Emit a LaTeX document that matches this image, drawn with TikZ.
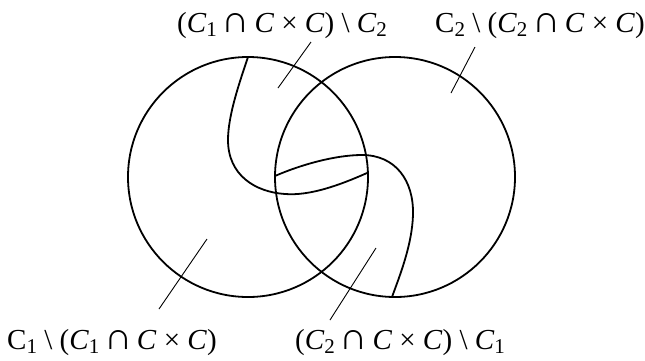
\documentclass[tikz,border=0pt]{standalone}
\usepackage{fontspec}
\usepackage{graphicx}
\setmainfont{Liberation Serif}

% lowered index, the set names and a wider intersection sign
\newcommand\ix[1]{\raisebox{-0.14em}{\fontsize{21}{21}\selectfont#1}}
\newcommand\Ci[1]{\textit{C}\ix{#1}}
\newcommand\Cr[1]{C\ix{#1}}
\newcommand\inter{\kern-0.09em\scalebox{1.35}[1.3]{∩}\kern-0.09em}

\begin{document}
\begin{tikzpicture}[x=1pt, y=-1pt,
  ring/.style={line width=1.8pt},
  seam/.style={line width=1.8pt},
  lead/.style={line width=0.9pt},
  lbl/.style={anchor=base west, inner sep=0pt, font=\fontsize{29}{29}\selectfont}
]
\useasboundingbox (0,0) rectangle (645,360);
% the two sets
\draw[ring] (248,177) circle[radius=120pt];
\draw[ring] (395,177) circle[radius=120pt];
% the two seams of C x C
\draw[seam] (248,57) .. controls (240,81) and (228,115) .. (228,140)
  .. controls (228,175) and (255,192) .. (285,194)
  .. controls (310,196) and (340,185) .. (367,173);
\draw[seam] (275,176) .. controls (300,165) and (335,155) .. (362,155)
  .. controls (395,155) and (414,180) .. (413,215)
  .. controls (412,245) and (400,275) .. (392,297);
% labels
\node[lbl] (topA) at (177,32) {(\Ci1 \inter{} \textit{C} × \textit{C}) \textbackslash{} \Ci2};
\node[lbl] (topB) at (435,32) {\Cr2 \textbackslash{} (\Ci2 \inter{} \textit{C} × \textit{C})};
\node[lbl] (botA) at (7,349) {\Cr1 \textbackslash{} (\Ci1 \inter{} \textit{C} × \textit{C})};
\node[lbl] (botB) at (295,349) {(\Ci2 \inter{} \textit{C} × \textit{C}) \textbackslash{} \Ci1};
% leaders
\coordinate (topA-in) at (278,88);
\coordinate (topB-in) at (451,93);
\coordinate (botA-in) at (207,239);
\coordinate (botB-in) at (376,248);
\draw[lead] (311,42) coordinate (topA-out) -- (topA-in);
\draw[lead] (475,47) coordinate (topB-out) -- (topB-in);
\draw[lead] (159,309) coordinate (botA-out) -- (botA-in);
\draw[lead] (330,320) coordinate (botB-out) -- (botB-in);
\end{tikzpicture}
\end{document}
